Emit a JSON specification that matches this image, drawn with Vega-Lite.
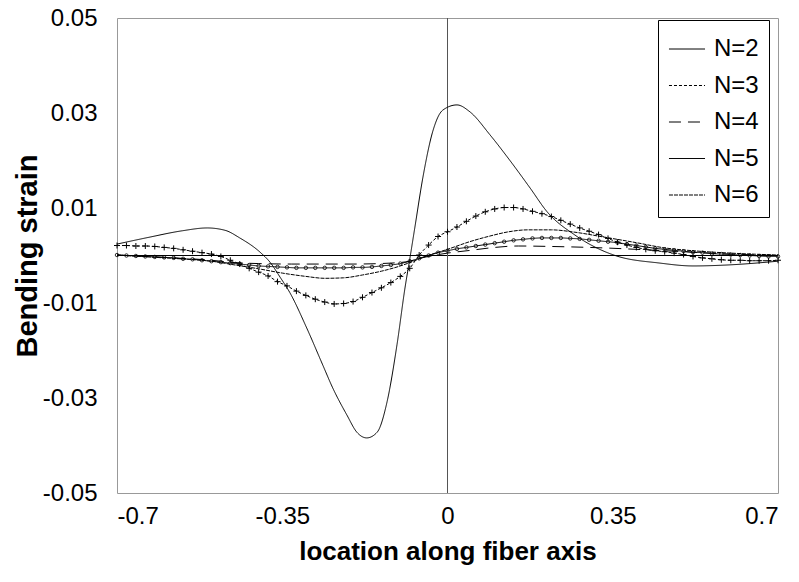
{
  "$schema": "https://vega.github.io/schema/vega-lite/v6.json",
  "width": 661,
  "height": 475,
  "autosize": {"type": "none"},
  "padding": {"left": 117, "top": 18, "right": 21, "bottom": 89},
  "background": "white",
  "config": {
    "view": {"stroke": "#999999", "strokeWidth": 1},
    "font": "Liberation Sans",
    "axis": {"grid": false, "ticks": false, "domain": false, "labelColor": "black", "titleColor": "black", "labelFont": "Liberation Sans", "titleFont": "Liberation Sans"}
  },
  "datasets": {
    "curves": [
      {"s":"N=2","x":-0.700,"y":0.0024},{"s":"N=2","x":-0.634,"y":0.0038},{"s":"N=2","x":-0.562,"y":0.0052},{"s":"N=2","x":-0.509,"y":0.0058},{"s":"N=2","x":-0.471,"y":0.0053},{"s":"N=2","x":-0.440,"y":0.0037},{"s":"N=2","x":-0.397,"y":0.0007},{"s":"N=2","x":-0.376,"y":-0.0014},{"s":"N=2","x":-0.355,"y":-0.0045},{"s":"N=2","x":-0.334,"y":-0.0078},{"s":"N=2","x":-0.298,"y":-0.0153},{"s":"N=2","x":-0.264,"y":-0.0231},{"s":"N=2","x":-0.243,"y":-0.0279},{"s":"N=2","x":-0.213,"y":-0.0336},{"s":"N=2","x":-0.192,"y":-0.0372},{"s":"N=2","x":-0.171,"y":-0.0384},{"s":"N=2","x":-0.149,"y":-0.0372},{"s":"N=2","x":-0.128,"y":-0.0308},{"s":"N=2","x":-0.107,"y":-0.0188},{"s":"N=2","x":-0.090,"y":-0.0068},{"s":"N=2","x":-0.079,"y":-0.0002},{"s":"N=2","x":-0.069,"y":0.0060},{"s":"N=2","x":-0.052,"y":0.0165},{"s":"N=2","x":-0.031,"y":0.0262},{"s":"N=2","x":-0.010,"y":0.0306},{"s":"N=2","x":0.020,"y":0.0317},{"s":"N=2","x":0.048,"y":0.0302},{"s":"N=2","x":0.090,"y":0.0254},{"s":"N=2","x":0.133,"y":0.0199},{"s":"N=2","x":0.175,"y":0.0142},{"s":"N=2","x":0.211,"y":0.0092},{"s":"N=2","x":0.270,"y":0.0043},{"s":"N=2","x":0.355,"y":0.0000},{"s":"N=2","x":0.450,"y":-0.0016},{"s":"N=2","x":0.520,"y":-0.0022},{"s":"N=2","x":0.592,"y":-0.0020},{"s":"N=2","x":0.700,"y":-0.0012},
      {"s":"N=3","x":-0.70,"y":0.0021},{"s":"N=3","x":-0.68,"y":0.0021},{"s":"N=3","x":-0.66,"y":0.0020},{"s":"N=3","x":-0.64,"y":0.0020},{"s":"N=3","x":-0.62,"y":0.0019},{"s":"N=3","x":-0.60,"y":0.0017},{"s":"N=3","x":-0.58,"y":0.0015},{"s":"N=3","x":-0.56,"y":0.0012},{"s":"N=3","x":-0.54,"y":0.0009},{"s":"N=3","x":-0.52,"y":0.0006},{"s":"N=3","x":-0.50,"y":0.0003},{"s":"N=3","x":-0.48,"y":-0.0002},{"s":"N=3","x":-0.46,"y":-0.0010},{"s":"N=3","x":-0.44,"y":-0.0018},{"s":"N=3","x":-0.42,"y":-0.0027},{"s":"N=3","x":-0.40,"y":-0.0035},{"s":"N=3","x":-0.38,"y":-0.0043},{"s":"N=3","x":-0.36,"y":-0.0055},{"s":"N=3","x":-0.34,"y":-0.0064},{"s":"N=3","x":-0.32,"y":-0.0075},{"s":"N=3","x":-0.30,"y":-0.0084},{"s":"N=3","x":-0.28,"y":-0.0092},{"s":"N=3","x":-0.26,"y":-0.0098},{"s":"N=3","x":-0.24,"y":-0.0102},{"s":"N=3","x":-0.22,"y":-0.0101},{"s":"N=3","x":-0.20,"y":-0.0097},{"s":"N=3","x":-0.18,"y":-0.0088},{"s":"N=3","x":-0.16,"y":-0.0078},{"s":"N=3","x":-0.14,"y":-0.0068},{"s":"N=3","x":-0.12,"y":-0.0057},{"s":"N=3","x":-0.10,"y":-0.0044},{"s":"N=3","x":-0.08,"y":-0.0027},{"s":"N=3","x":-0.06,"y":0.0001},{"s":"N=3","x":-0.04,"y":0.0022},{"s":"N=3","x":-0.02,"y":0.0040},{"s":"N=3","x":0.00,"y":0.0050},{"s":"N=3","x":0.02,"y":0.0060},{"s":"N=3","x":0.04,"y":0.0072},{"s":"N=3","x":0.06,"y":0.0083},{"s":"N=3","x":0.08,"y":0.0092},{"s":"N=3","x":0.10,"y":0.0098},{"s":"N=3","x":0.12,"y":0.0101},{"s":"N=3","x":0.14,"y":0.0101},{"s":"N=3","x":0.16,"y":0.0098},{"s":"N=3","x":0.18,"y":0.0093},{"s":"N=3","x":0.20,"y":0.0088},{"s":"N=3","x":0.22,"y":0.0082},{"s":"N=3","x":0.24,"y":0.0074},{"s":"N=3","x":0.26,"y":0.0066},{"s":"N=3","x":0.28,"y":0.0058},{"s":"N=3","x":0.30,"y":0.0051},{"s":"N=3","x":0.32,"y":0.0044},{"s":"N=3","x":0.34,"y":0.0036},{"s":"N=3","x":0.36,"y":0.0028},{"s":"N=3","x":0.38,"y":0.0022},{"s":"N=3","x":0.40,"y":0.0017},{"s":"N=3","x":0.42,"y":0.0013},{"s":"N=3","x":0.44,"y":0.0010},{"s":"N=3","x":0.46,"y":0.0008},{"s":"N=3","x":0.48,"y":0.0005},{"s":"N=3","x":0.50,"y":0.0002},{"s":"N=3","x":0.52,"y":-0.0002},{"s":"N=3","x":0.54,"y":-0.0005},{"s":"N=3","x":0.56,"y":-0.0007},{"s":"N=3","x":0.58,"y":-0.0009},{"s":"N=3","x":0.60,"y":-0.0010},{"s":"N=3","x":0.62,"y":-0.0010},{"s":"N=3","x":0.64,"y":-0.0011},{"s":"N=3","x":0.66,"y":-0.0011},{"s":"N=3","x":0.68,"y":-0.0011},{"s":"N=3","x":0.70,"y":-0.0010},
      {"s":"N=4","x":-0.70,"y":0.0001},{"s":"N=4","x":-0.60,"y":-0.0004},{"s":"N=4","x":-0.50,"y":-0.0010},{"s":"N=4","x":-0.45,"y":-0.0015},{"s":"N=4","x":-0.40,"y":-0.0017},{"s":"N=4","x":-0.33,"y":-0.0018},{"s":"N=4","x":-0.20,"y":-0.0018},{"s":"N=4","x":-0.12,"y":-0.0016},{"s":"N=4","x":-0.08,"y":-0.0012},{"s":"N=4","x":-0.05,"y":-0.0004},{"s":"N=4","x":0.00,"y":0.0005},{"s":"N=4","x":0.05,"y":0.0011},{"s":"N=4","x":0.09,"y":0.0016},{"s":"N=4","x":0.15,"y":0.0020},{"s":"N=4","x":0.22,"y":0.0019},{"s":"N=4","x":0.33,"y":0.0016},{"s":"N=4","x":0.46,"y":0.0010},{"s":"N=4","x":0.60,"y":0.0003},{"s":"N=4","x":0.70,"y":0.0000},
      {"s":"N=5","x":-0.70,"y":0.0001},{"s":"N=5","x":-0.68,"y":0.0000},{"s":"N=5","x":-0.66,"y":-0.0001},{"s":"N=5","x":-0.64,"y":-0.0002},{"s":"N=5","x":-0.62,"y":-0.0003},{"s":"N=5","x":-0.60,"y":-0.0004},{"s":"N=5","x":-0.58,"y":-0.0005},{"s":"N=5","x":-0.56,"y":-0.0007},{"s":"N=5","x":-0.54,"y":-0.0008},{"s":"N=5","x":-0.52,"y":-0.0010},{"s":"N=5","x":-0.50,"y":-0.0012},{"s":"N=5","x":-0.48,"y":-0.0014},{"s":"N=5","x":-0.46,"y":-0.0016},{"s":"N=5","x":-0.44,"y":-0.0018},{"s":"N=5","x":-0.42,"y":-0.0020},{"s":"N=5","x":-0.40,"y":-0.0022},{"s":"N=5","x":-0.38,"y":-0.0023},{"s":"N=5","x":-0.36,"y":-0.0024},{"s":"N=5","x":-0.34,"y":-0.0025},{"s":"N=5","x":-0.32,"y":-0.0026},{"s":"N=5","x":-0.30,"y":-0.0026},{"s":"N=5","x":-0.28,"y":-0.0026},{"s":"N=5","x":-0.26,"y":-0.0026},{"s":"N=5","x":-0.24,"y":-0.0026},{"s":"N=5","x":-0.22,"y":-0.0026},{"s":"N=5","x":-0.20,"y":-0.0025},{"s":"N=5","x":-0.18,"y":-0.0025},{"s":"N=5","x":-0.16,"y":-0.0024},{"s":"N=5","x":-0.14,"y":-0.0022},{"s":"N=5","x":-0.12,"y":-0.0020},{"s":"N=5","x":-0.10,"y":-0.0017},{"s":"N=5","x":-0.08,"y":-0.0012},{"s":"N=5","x":-0.06,"y":-0.0006},{"s":"N=5","x":-0.04,"y":0.0000},{"s":"N=5","x":-0.02,"y":0.0006},{"s":"N=5","x":0.00,"y":0.0010},{"s":"N=5","x":0.02,"y":0.0014},{"s":"N=5","x":0.04,"y":0.0017},{"s":"N=5","x":0.06,"y":0.0020},{"s":"N=5","x":0.08,"y":0.0023},{"s":"N=5","x":0.10,"y":0.0026},{"s":"N=5","x":0.12,"y":0.0029},{"s":"N=5","x":0.14,"y":0.0032},{"s":"N=5","x":0.16,"y":0.0034},{"s":"N=5","x":0.18,"y":0.0036},{"s":"N=5","x":0.20,"y":0.0037},{"s":"N=5","x":0.22,"y":0.0037},{"s":"N=5","x":0.24,"y":0.0037},{"s":"N=5","x":0.26,"y":0.0036},{"s":"N=5","x":0.28,"y":0.0035},{"s":"N=5","x":0.30,"y":0.0033},{"s":"N=5","x":0.32,"y":0.0031},{"s":"N=5","x":0.34,"y":0.0029},{"s":"N=5","x":0.36,"y":0.0027},{"s":"N=5","x":0.38,"y":0.0024},{"s":"N=5","x":0.40,"y":0.0021},{"s":"N=5","x":0.42,"y":0.0018},{"s":"N=5","x":0.44,"y":0.0015},{"s":"N=5","x":0.46,"y":0.0013},{"s":"N=5","x":0.48,"y":0.0011},{"s":"N=5","x":0.50,"y":0.0009},{"s":"N=5","x":0.52,"y":0.0007},{"s":"N=5","x":0.54,"y":0.0006},{"s":"N=5","x":0.56,"y":0.0004},{"s":"N=5","x":0.58,"y":0.0003},{"s":"N=5","x":0.60,"y":0.0002},{"s":"N=5","x":0.62,"y":0.0001},{"s":"N=5","x":0.64,"y":0.0000},{"s":"N=5","x":0.66,"y":-0.0001},{"s":"N=5","x":0.68,"y":-0.0002},{"s":"N=5","x":0.70,"y":-0.0002},
      {"s":"N=6","x":-0.70,"y":0.0001},{"s":"N=6","x":-0.65,"y":-0.0002},{"s":"N=6","x":-0.60,"y":-0.0005},{"s":"N=6","x":-0.55,"y":-0.0008},{"s":"N=6","x":-0.50,"y":-0.0012},{"s":"N=6","x":-0.45,"y":-0.0020},{"s":"N=6","x":-0.40,"y":-0.0028},{"s":"N=6","x":-0.35,"y":-0.0037},{"s":"N=6","x":-0.30,"y":-0.0044},{"s":"N=6","x":-0.26,"y":-0.0048},{"s":"N=6","x":-0.22,"y":-0.0047},{"s":"N=6","x":-0.18,"y":-0.0041},{"s":"N=6","x":-0.14,"y":-0.0033},{"s":"N=6","x":-0.10,"y":-0.0022},{"s":"N=6","x":-0.08,"y":-0.0015},{"s":"N=6","x":-0.05,"y":-0.0003},{"s":"N=6","x":0.00,"y":0.0013},{"s":"N=6","x":0.05,"y":0.0030},{"s":"N=6","x":0.09,"y":0.0041},{"s":"N=6","x":0.13,"y":0.0050},{"s":"N=6","x":0.17,"y":0.0054},{"s":"N=6","x":0.22,"y":0.0054},{"s":"N=6","x":0.27,"y":0.0049},{"s":"N=6","x":0.33,"y":0.0039},{"s":"N=6","x":0.40,"y":0.0027},{"s":"N=6","x":0.46,"y":0.0016},{"s":"N=6","x":0.52,"y":0.0010},{"s":"N=6","x":0.60,"y":0.0005},{"s":"N=6","x":0.70,"y":0.0001}
    ],
    "zero": [{"v": 0}]
  },
  "layer": [
    {
      "data": {"name": "zero"},
      "mark": {"type": "rule", "color": "black", "strokeWidth": 1},
      "encoding": {"y": {"field": "v", "type": "quantitative", "scale": {"domain": [-0.05, 0.05], "nice": false, "zero": false}}}
    },
    {
      "data": {"name": "zero"},
      "mark": {"type": "rule", "color": "#555555", "strokeWidth": 1},
      "encoding": {"x": {"field": "v", "type": "quantitative", "scale": {"domain": [-0.7, 0.7], "nice": false, "zero": false}}}
    },
    {
      "data": {"name": "curves"},
      "mark": {"type": "line", "interpolate": "monotone", "color": "black", "strokeWidth": 1},
      "encoding": {
        "x": {"field": "x", "type": "quantitative", "scale": {"domain": [-0.7, 0.7], "nice": false, "zero": false},
              "axis": {"values": [-0.7, -0.35, 0, 0.35, 0.7], "labelExpr": "'' + datum.value", "labelFontSize": 24, "labelPadding": 11, "title": "location along fiber axis", "titleFontSize": 26, "titleFontWeight": "bold", "titlePadding": 10}},
        "y": {"field": "y", "type": "quantitative", "scale": {"domain": [-0.05, 0.05], "nice": false, "zero": false},
              "axis": {"values": [-0.05, -0.03, -0.01, 0.01, 0.03, 0.05], "labelExpr": "'' + datum.value", "labelFontSize": 24, "labelPadding": 20, "title": "Bending strain", "titleFontSize": 29, "titleFontWeight": "bold", "titlePadding": 0}},
        "detail": {"field": "s", "type": "nominal"},
        "strokeDash": {"field": "s", "type": "nominal",
          "scale": {"domain": ["N=2", "N=3", "N=4", "N=5", "N=6"], "range": [[1, 0], [3, 2], [12, 7], [1, 0], [4, 1]]},
          "legend": {"title": null, "orient": "none", "legendX": 541, "legendY": 2, "symbolType": "stroke", "symbolSize": 1300, "symbolStrokeColor": "black", "symbolStrokeWidth": 1, "labelFontSize": 24, "labelColor": "black", "labelFont": "Liberation Sans", "labelOffset": 8, "rowPadding": 5.5, "padding": 10, "strokeColor": "black", "fillColor": "white"}}
      }
    },
    {
      "data": {"name": "curves"},
      "transform": [{"filter": "datum.s === 'N=3'"}],
      "mark": {"type": "point", "shape": "M-1,0H1M0,-1V1", "size": 36, "filled": false, "stroke": "black", "strokeWidth": 1, "opacity": 1},
      "encoding": {"x": {"field": "x", "type": "quantitative"}, "y": {"field": "y", "type": "quantitative"}}
    },
    {
      "data": {"name": "curves"},
      "transform": [{"filter": "datum.s === 'N=5'"}],
      "mark": {"type": "point", "shape": "circle", "size": 12, "filled": false, "stroke": "black", "strokeWidth": 0.8, "opacity": 1},
      "encoding": {"x": {"field": "x", "type": "quantitative"}, "y": {"field": "y", "type": "quantitative"}}
    }
  ]
}
